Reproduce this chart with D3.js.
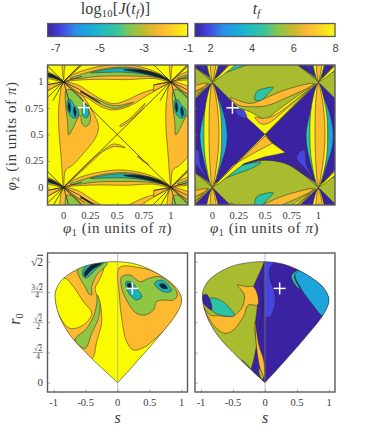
<!DOCTYPE html>
<html><head><meta charset="utf-8">
<script src="https://d3js.org/d3.v7.min.js"></script>
<style>html,body{margin:0;padding:0;background:#fff}svg{display:block}text{font-family:"Liberation Serif",serif;fill:#3a3a3a}</style>
</head><body><svg id="c" width="368" height="436"></svg>
<script>
// ---------- colours ----------
const cbStops=["#35249a","#4646e6","#2a8fe6","#1aa9dc","#22bcc0","#3cc59a","#8dc54a","#c5ba2c","#fdb733","#fbd524","#f9f90e"];
const cDark="#3a22a2",cBlue="#4545e2",cAzure="#1ea6dc",cTeal="#2cc3a6",cOlive="#a9bb2f",cOrange="#fdb92f",cYellow="#f8f510";
const lYellow="#fbfb00",lOrange="#fdb92f",lGreen="#8fc644",lTeal="#1bb3b5",lBlack="#0c2430";
// ---------- ticks ----------
const jTicks=[-7,-5,-3,-1], tfTicks=[2,4,6,8];
const phiTicks=[0,.25,.5,.75,1], phiLabels=["0","0.25","0.5","0.75","1"];
const sTicks=[-1,-.5,0,.5,1], sLabels=["-1","-0.5","0","0.5","1"];
const rTicks=[0,Math.SQRT2/4,Math.SQRT2/2,3*Math.SQRT2/4,Math.SQRT2], rLabels=["0","√2/4","√2/2","3√2/4","√2"];
const crossPhi=[0.19,0.755], crossS=[0.229,1.102];
// ---------- panel (a) log J, periodic regions in (phi1,phi2) ----------
const lobeOrange=[[0,.984],[-.037,.842],[-.047,.621],[-.025,.306],[0,.016],[.019,.164],[.078,.205],[.186,.322],[.295,.464],[.326,.574],[.28,.70],[.155,.89]];
const lobeGreen=[[.025,.921],[.019,.779],[.037,.621],[.047,.495],[.078,.543],[.124,.637],[.155,.685],[.171,.606],[.202,.574],[.242,.606],[.248,.685],[.202,.779],[.155,.858],[.078,.921]];
const lobeTealA=[[.04,.826],[.034,.748],[.062,.678],[.109,.653],[.14,.685],[.13,.748],[.093,.785],[.068,.826]];
const lobeTealB=[[.18,.779],[.217,.779],[.236,.716],[.217,.659],[.186,.669],[.171,.732]];
const lobeBlackA=[[.05,.811],[.065,.763],[.059,.71],[.043,.754]];
const lobeBlackB=[[.099,.763],[.118,.716],[.109,.669],[.093,.716]];
const bandOrange=[[0,0],[.093,.069],[.217,.117],[.357,.148],[.512,.164],[.683,.148],[.839,.101],[.932,.054],[1,0],[.839,.03],[.6,.02],[.3,.022],[.09,.012]];
const bandGreen=[[.06,.03],[.217,.085],[.404,.128],[.59,.138],[.776,.105],[.932,.035],[.776,.05],[.559,.055],[.31,.05],[.15,.03]];
const bandTeal=[[.25,.085],[.497,.127],[.683,.118],[.839,.075],[.916,.04],[.745,.072],[.559,.09],[.38,.088]];
const bandBlack=[[.559,.112],[.714,.112],[.885,.072],[1,0],[.87,.047],[.714,.085]];
const crescentOrange=[[0,1],[.14,.966],[.264,.886],[.388,.814],[.481,.792],[.59,.826],[.745,.899],[.916,.953],[1,1],[.776,.868],[.621,.773],[.466,.732],[.357,.76],[.233,.839],[.109,.909]];
const crescentGreen=[[.22,.87],[.326,.8],[.404,.762],[.497,.748],[.652,.805],[.497,.772],[.404,.79],[.3,.84]];
const crescentBlack=[[0,1],[.171,.91],[.342,.797],[.171,.895]];
const centerStreak=[[.522,.58],[.621,.653],[.761,.795],[.745,.763],[.634,.647],[.534,.574]];
const lowerCrescent=[[.351,.331],[.466,.41],[.575,.375],[.466,.385]];
const lowerStreak=[[.689,.297],[.795,.211],[.714,.268]];
const diagWedge=[[0,0],[.35,.33],[.3,.3]];
const diagA=[[0,0],[1,1]], diagB=[[0,1],[1,0]];
const fanOrange=[[[0,0],[-.16,-.03],[-.16,-.09]],[[0,0],[.16,-.08],[.16,-.12]]];
const fanLines=[[[0,0],[-.1,-.18]],[[0,0],[.05,-.18]],[[0,0],[-.16,-.03]],[[0,0],[.17,.05]]];
// ---------- panel (b) tf, periodic regions ----------
const diamond=[[0,0],[.5,.5],[0,1],[-.5,.5]];
const lowerTri=[[0,0],[.5,.5],[1,0]];
const lensTeal=[[-.006,.94],[-.075,.718],[-.116,.497],[-.085,.275],[-.013,.038],[0,.5]];
const lensYellow=[[0,.987],[-.063,.782],[-.079,.497],[-.063,.244],[0,.006],[.072,.244],[.088,.497],[.072,.75]];
const lensOrange=[[0,.987],[-.022,.845],[-.031,.497],[-.022,.212],[0,.006],[.041,.212],[.063,.497],[.041,.813]];
const lensAzure=[[.031,.892],[.082,.782],[.135,.576],[.135,.402],[.082,.212],[.025,.038],[.072,.307],[.079,.497],[.072,.718]];
const blueA=[[.796,.275],[.827,.339],[.868,.354],[.89,.212],[.953,.085],[.874,.18]];
const blueB=[[.214,.734],[.292,.734],[.324,.655],[.261,.671]];
const yellowUp=[[.214,.766],[.497,.503],[.969,.987],[.686,.782],[.497,.639],[.355,.718]];
const wingOrange=[[.167,.851],[.277,.813],[.371,.797],[.497,.845],[.686,.924],[.953,.987],[.937,.965],[.686,.845],[.513,.775],[.34,.766],[.245,.782]];
const wing2=[[.403,.665],[.481,.655],[.591,.687],[.921,.94],[.686,.734],[.528,.608],[.465,.601],[.418,.639]];
const tealBlob=[[.403,.829],[.418,.908],[.497,.94],[.575,.949],[.513,.877],[.465,.829]];
const yellowLow=[[.497,.503],[.566,.42],[.69,.33],[.6,.31],[.5,.29],[.3,.225],[.06,.035],[0,0]];
const orangeLow=[[.497,.487],[.566,.418],[.387,.323],[.198,.212],[.04,.04]];
const lensFill=[[0,0],[.12,.10],[.277,.196],[.465,.256],[.686,.228],[.843,.133],[1,0],[.5,-.02]];
const lensArc=[[0,0],[.12,.10],[.277,.196],[.465,.256],[.686,.228],[.843,.133],[1,0]];
const tealLow=[[.104,.085],[.214,.18],[.355,.228],[.459,.237],[.371,.18],[.245,.133]];
// ---------- droplet outline in (s,r0) ----------
const outline=[[0,0],[-.406,.284],[-.745,.557],[-.927,.81],[-.979,1.025],[-.943,1.122],[-.849,1.219],[-.536,1.356],[-.224,1.406],[0,1.414],[.297,1.383],[.661,1.258],[.922,1.102],[1,.966],[.922,.81],[.661,.557],[.297,.245],[0,0]];
// ---------- panel (c) ----------
const cOrangeL=[[-.849,1.239],[-.615,1.367],[-.224,1.414],[-.224,1.317],[-.302,1.18],[-.354,1.102],[-.276,.927],[-.25,.713],[-.328,.479],[-.406,.284],[-.797,.518],[-1.005,.908],[-1.005,1.102]];
const cYellowL=[[-1.005,1.025],[-1.005,1.141],[-.823,1.219],[-.693,1.122],[-.536,.947],[-.406,.81],[-.536,.674],[-.745,.635],[-.875,.732],[-.979,.908]];
const cGreenTop=[[-.63,1.328],[-.589,1.219],[-.51,1.122],[-.458,1.044],[-.406,1.025],[-.406,1.122],[-.328,1.258],[-.161,1.395],[-.302,1.434],[-.484,1.414]];
const cTealTop=[[-.536,1.328],[-.536,1.239],[-.484,1.227],[-.328,1.336],[-.214,1.406],[-.38,1.414]];
const cBlackTop=[[-.521,1.278],[-.51,1.239],[-.406,1.317],[-.25,1.395],[-.406,1.375]];
const cGreenStrip=[[-.318,1.025],[-.276,.927],[-.302,.752],[-.406,.577],[-.51,.401],[-.667,.499],[-.484,.635],[-.37,.791],[-.328,.927]];
const cOrangeR=[[.026,1.344],[.349,1.344],[.661,1.266],[.948,1.102],[1.026,.966],[.948,.791],[.661,.565],[.427,.421],[.245,.382],[.141,.479],[.0625,.752],[.026,1.025]];
const cGreenR=[[.0625,1.239],[.193,1.258],[.349,1.18],[.479,1.219],[.661,1.239],[.87,1.122],[.932,1.025],[.87,.966],[.714,.966],[.609,.947],[.557,.849],[.427,.791],[.297,.81],[.167,.927],[.0625,1.102]];
const cTeal1=[[.13,1.18],[.219,1.173],[.297,1.102],[.375,1.005],[.297,.966],[.193,1.025],[.141,1.102]];
const cBlack1=[[.156,1.161],[.219,1.149],[.229,1.102],[.167,1.11]];
const cTeal2=[[.573,1.161],[.688,1.2],[.792,1.141],[.844,1.075],[.766,1.056],[.661,1.083]];
const cBlack2=[[.651,1.149],[.724,1.153],[.776,1.102],[.703,1.102]];
// ---------- panel (d) ----------
const dLeftHalf=[[-1.2,-.1],[0,-.1],[0,1.6],[-1.2,1.6]];
const dRightHalf=[[0,-.1],[1.2,-.1],[1.2,1.6],[0,1.6]];
const dBlue=[[0,1.422],[.156,1.422],[.078,1.336],[.078,1.219],[.146,1.063],[.156,.908],[.078,.771],[0,.771]];
const dAzure=[[.469,1.266],[.625,1.328],[.833,1.219],[1.016,1.005],[.911,.783],[.729,.927],[.547,1.122]];
const dTealR=[[.417,1.258],[.573,1.336],[.688,1.328],[.521,1.297],[.458,1.25],[.479,1.188],[.547,1.095],[.495,1.122],[.427,1.2]];
const dDarkStrip=[[0,1.422],[-.182,1.122],[-.13,1.044],[-.115,.908],[-.146,.732],[-.156,.596],[-.13,.44],[-.182,.245],[-.219,.16],[0,0]];
const dOrange=[[-.432,1.141],[-.286,1.122],[-.182,1.122],[-.115,1.025],[-.115,.908],[-.26,.908],[-.339,.771],[-.495,.616],[-.625,.577],[-.807,.674],[-.974,.908],[-.859,.791],[-.729,.783],[-.495,.783],[-.354,.888],[-.323,1.025],[-.391,1.102]];
const dOrange2=[[-.156,.713],[-.094,.44],[-.016,.245],[-.016,.051],[-.078,.168],[-.13,.401]];
const dGreenSmall=[[-.094,.168],[-.026,.07],[-.042,.031],[-.094,.109]];
const dTealLobe=[[-.859,.986],[-.703,.966],[-.547,.869],[-.479,.783],[-.703,.791],[-.833,.849]];
const dDarkLobe=[[-.974,1.017],[-.911,1.032],[-.859,.966],[-.833,.849],[-.911,.888],[-.974,.947]];
const dTealSmall=[[-.365,.265],[-.234,.168],[-.3125,.238]];
const dInnerLine=[[-.08,1.219],[-.04,1.05],[-.03,.9],[-.06,.75],[-.09,.6]];

// ---------- drawing ----------
const svg=d3.select("#c");
const defs=svg.append("defs");
const frameCol="#5a5a5a", tickCol="#777", txt="#3a3a3a";
const smooth=d3.curveCatmullRomClosed.alpha(.5), sharp=d3.curveLinearClosed;

function panel(id,box,x,y){
  const g=svg.append("g");
  defs.append("clipPath").attr("id",id).append("rect").attr("x",box[0]).attr("y",box[1]).attr("width",box[2]-box[0]).attr("height",box[3]-box[1]);
  const inner=g.append("g").attr("clip-path",`url(#${id})`);
  return {g,inner,box,x,y};
}
function region(p,pts,fill,opt={}){
  const xs=opt.xs||[0],ys=opt.ys||[0];
  const target=opt.target||p.inner;
  const line=d3.line().x(d=>p.x(d[0])).y(d=>p.y(d[1])).curve(opt.sharp?sharp:smooth);
  xs.forEach(dx=>ys.forEach(dy=>{
    target.append("path").attr("d",line(pts.map(q=>[q[0]+dx,q[1]+dy])))
      .attr("fill",fill).attr("stroke",opt.noStroke?"none":"#262626").attr("stroke-width",opt.sw||.5).attr("stroke-linejoin","round");
  }));
}
function rays(p,pts,opt={}){
  const xs=opt.xs||[0],ys=opt.ys||[0];
  const line=d3.line().x(d=>p.x(d[0])).y(d=>p.y(d[1])).curve(opt.curve||d3.curveLinear);
  xs.forEach(dx=>ys.forEach(dy=>{
    (opt.target||p.inner).append("path").attr("d",line(pts.map(q=>[q[0]+dx,q[1]+dy]))).attr("fill","none")
      .attr("stroke",opt.col||"#1c1c1c").attr("stroke-width",opt.sw||.7);
  }));
}
function finish(p,xT,xL,yT,yL){
  const [x0,y0,x1,y1]=p.box;
  const ax=d3.axisBottom(p.x).tickValues(xT).tickSize(-2.5).tickFormat("");
  const gx=p.g.append("g").attr("transform",`translate(0,${y1})`).call(ax);
  gx.select(".domain").remove(); gx.selectAll("line").attr("stroke",tickCol).attr("stroke-width",.6);
  const ay=d3.axisLeft(p.y).tickValues(yT).tickSize(-2.5).tickFormat("");
  const gy=p.g.append("g").attr("transform",`translate(${x0},0)`).call(ay);
  gy.select(".domain").remove(); gy.selectAll("line").attr("stroke",tickCol).attr("stroke-width",.6);
  p.g.append("rect").attr("x",x0).attr("y",y0).attr("width",x1-x0).attr("height",y1-y0).attr("fill","none").attr("stroke",frameCol).attr("stroke-width",1.4);
  if(xL) p.g.selectAll(".xl").data(xT).join("text").attr("class","xl")
    .attr("x",d=>p.x(d)).attr("y",y1+13.5).attr("text-anchor","middle").attr("font-size",10.5).text((d,i)=>xL[i]);
  if(yL) yL(p);
}
function cross(p,c){
  const X=p.x(c[0]),Y=p.y(c[1]);
  const h=d3.line();
  [[[X-6,Y],[X+6,Y]],[[X,Y-6],[X,Y+6]]].forEach(l=>p.g.append("path").attr("d",h(l)).attr("stroke","#fff").attr("stroke-width",1.5));
}
function phiYLabels(p){
  p.g.selectAll(".yl").data(phiTicks).join("text").attr("x",p.box[0]-4).attr("y",d=>p.y(d)+3.4)
   .attr("text-anchor","end").attr("font-size",10.5).text((d,i)=>phiLabels[i]);
}
function rYLabels(p){
  const radical=(t,txtv)=>{const m=txtv.split("√");t.append("tspan").text(m[0]+"√");t.append("tspan").style("text-decoration","overline").text(m[1]);};
  rTicks.forEach((d,i)=>{
    const lab=rLabels[i],Y=p.y(d),xr=p.box[0]-4.5;
    if(lab.includes("/")){
      const [a,b]=lab.split("/"), hw=a.length>2?6:5, xc=xr-hw;
      p.g.append("text").attr("x",xc).attr("y",Y-1.5).attr("text-anchor","middle").attr("font-size",7.5).call(radical,a);
      p.g.append("path").attr("d",d3.line()([[xc-hw,Y],[xc+hw,Y]])).attr("stroke",txt).attr("stroke-width",.5);
      p.g.append("text").attr("x",xc).attr("y",Y+6.5).attr("text-anchor","middle").attr("font-size",7.5).text(b);
    } else if(lab.includes("√")){
      p.g.append("text").attr("x",xr).attr("y",Y+4).attr("text-anchor","end").attr("font-size",11.5).call(radical,lab);
    } else {
      p.g.append("text").attr("x",xr).attr("y",Y+3.6).attr("text-anchor","end").attr("font-size",11).text(lab);
    }
  });
}

// (a)
const xA=d3.scaleLinear().domain([0,1]).range([63.6,170.8]);
const yA=d3.scaleLinear().domain([0,1]).range([187.3,81.7]);
const pA=panel("ca",[47.5,65,188,205],xA,yA);
const PX=[-1,0,1],PY=[-1,0,1];
pA.inner.append("rect").attr("x",47).attr("y",65).attr("width",142).attr("height",141).attr("fill",lYellow);
const perA={xs:PX,ys:PY};
region(pA,lobeOrange,lOrange,perA);
region(pA,lobeGreen,lGreen,perA);
region(pA,lobeTealA,lTeal,perA); region(pA,lobeTealB,lTeal,perA);
region(pA,lobeBlackA,lBlack,perA); region(pA,lobeBlackB,lBlack,perA);
region(pA,bandOrange,lOrange,perA); region(pA,bandGreen,lGreen,perA);
region(pA,bandTeal,lTeal,perA); region(pA,bandBlack,lBlack,perA);
region(pA,crescentOrange,lOrange,perA); region(pA,crescentGreen,lGreen,perA); region(pA,crescentBlack,lBlack,perA);
region(pA,centerStreak,lOrange,perA); region(pA,lowerCrescent,lOrange,perA);
region(pA,lowerStreak,lOrange,perA); region(pA,diagWedge,lOrange,perA);
fanOrange.forEach(f=>region(pA,f,lOrange,{...perA,sharp:true}));
fanLines.forEach(f=>rays(pA,f,{...perA,sw:.7}));
rays(pA,diagA,{xs:PX,ys:PY,sw:.7}); rays(pA,diagB,{xs:PX,ys:PY,sw:.7});
finish(pA,phiTicks,phiLabels,phiTicks,phiYLabels);
cross(pA,crossPhi);

// (b)
const xB=d3.scaleLinear().domain([0,1]).range([212.3,318.3]);
const yB=d3.scaleLinear().domain([0,1]).range([187.3,82]);
const pB=panel("cb",[195,65,335,205],xB,yB);
pB.inner.append("rect").attr("x",194).attr("y",64).attr("width",142).attr("height",142).attr("fill",cOlive);
const perB={xs:PX,ys:PY};
region(pB,diamond,cDark,{...perB,sharp:true});
region(pB,lowerTri,cDark,{...perB,sharp:true});
region(pB,lensFill,cOlive,{...perB,noStroke:true});
rays(pB,lensArc,{...perB,curve:d3.curveCatmullRom.alpha(.5),sw:.6});
region(pB,tealLow,cTeal,perB);
region(pB,yellowLow,cYellow,{...perB,sharp:true});
region(pB,orangeLow,cOrange,{...perB,sharp:true});
region(pB,yellowUp,cYellow,{...perB,sharp:true});
region(pB,wingOrange,cOrange,perB);
region(pB,wing2,cOrange,perB);
region(pB,tealBlob,cTeal,perB);
region(pB,blueA,cBlue,perB); region(pB,blueB,cBlue,perB);
region(pB,lensTeal,cTeal,perB);
region(pB,lensAzure,cAzure,perB);
region(pB,lensYellow,cYellow,perB);
region(pB,lensOrange,cOrange,perB);
finish(pB,phiTicks,phiLabels,phiTicks,null);
cross(pB,crossPhi);

// (c)
const xC=d3.scaleLinear().domain([0,1]).range([117.7,181.7]);
const yC=d3.scaleLinear().domain([0,Math.SQRT2]).range([382.7,261.7]);
const pC=panel("cc",[47.5,253,187.5,392],xC,yC);
const lineOpen=(p)=>d3.line().x(d=>p.x(d[0])).y(d=>p.y(d[1])).curve(d3.curveCatmullRom.alpha(.5));
function droplet(p,id){
  defs.append("clipPath").attr("id",id).append("path").attr("d",lineOpen(p)(outline));
  return p.inner.append("g").attr("clip-path",`url(#${id})`);
}
const dc=droplet(pC,"dropc");
const oc={target:dc};
region(pC,dLeftHalf,lYellow,{...oc,sharp:true,noStroke:true});
region(pC,dRightHalf,lYellow,{...oc,sharp:true,noStroke:true});
region(pC,cOrangeL,lOrange,oc); region(pC,cYellowL,lYellow,oc);
region(pC,cGreenStrip,lGreen,oc); region(pC,cGreenTop,lGreen,oc);
region(pC,cTealTop,lTeal,oc); region(pC,cBlackTop,lBlack,oc);
region(pC,cOrangeR,lOrange,oc); region(pC,cGreenR,lGreen,oc);
region(pC,cTeal1,lTeal,oc); region(pC,cBlack1,lBlack,oc);
region(pC,cTeal2,lTeal,oc); region(pC,cBlack2,lBlack,oc);
pC.inner.append("path").attr("d",lineOpen(pC)(outline)).attr("fill","none").attr("stroke","#333").attr("stroke-width",.6);
pC.inner.append("line").attr("x1",xC(0)).attr("x2",xC(0)).attr("y1",253).attr("y2",392).attr("stroke","#999").attr("stroke-width",.9).attr("opacity",.7);
finish(pC,sTicks,sLabels,rTicks,rYLabels);
cross(pC,crossS);

// (d)
const xD=d3.scaleLinear().domain([0,1]).range([265,329]);
const pD=panel("cd",[195,253,335,392],xD,yC);
const dd=droplet(pD,"dropd");
const od={target:dd};
region(pD,dLeftHalf,cOlive,{...od,sharp:true,noStroke:true});
region(pD,dRightHalf,cDark,{...od,sharp:true,noStroke:true});
region(pD,dBlue,cBlue,od); region(pD,dTealR,cTeal,od); region(pD,dAzure,cAzure,od);
region(pD,dDarkStrip,cDark,{...od,sharp:true}); region(pD,dOrange,cOrange,od); region(pD,dOrange2,cOrange,od);
region(pD,dGreenSmall,cOlive,od); region(pD,dTealLobe,cTeal,od);
region(pD,dDarkLobe,cDark,od); region(pD,dTealSmall,cTeal,od);
rays(pD,dInnerLine,{target:dd,curve:d3.curveCatmullRom.alpha(.5),sw:.5});
pD.inner.append("path").attr("d",lineOpen(pD)(outline)).attr("fill","none").attr("stroke","#333").attr("stroke-width",.6);
pD.inner.append("line").attr("x1",xD(0)).attr("x2",xD(0)).attr("y1",253).attr("y2",392).attr("stroke","#999").attr("stroke-width",.9).attr("opacity",.7);
finish(pD,sTicks,sLabels,rTicks,null);
cross(pD,crossS);

// colour bars
const grad=defs.append("linearGradient").attr("id","cbg");
cbStops.forEach((c,i)=>grad.append("stop").attr("offset",i/(cbStops.length-1)).attr("stop-color",c));
function colorbar(x0,x1,sc,ticks){
  svg.append("rect").attr("x",x0).attr("y",23.5).attr("width",x1-x0).attr("height",13).attr("fill","url(#cbg)").attr("stroke",frameCol).attr("stroke-width",1.3);
  const a=d3.axisBottom(sc).tickValues(ticks).tickSize(-1.5).tickFormat(d=>d);
  const g=svg.append("g").attr("transform","translate(0,36.5)").call(a);
  g.select(".domain").remove();
  g.selectAll("line").attr("stroke","#666").attr("stroke-width",.5);
  g.selectAll("text").attr("y",7.5).attr("dy",".71em").attr("font-size",11).style("font-family","'Liberation Sans',sans-serif").style("fill","#444");
}
colorbar(47.7,187.7,d3.scaleLinear().domain([-7,-1]).range([55.2,187.7]),jTicks);
colorbar(195,335,d3.scaleLinear().domain([2,8]).range([210,335]),tfTicks);

// titles
const t1=svg.append("text").attr("x",115.5).attr("y",13.5).attr("text-anchor","middle").attr("font-size",16).attr("letter-spacing",.25);
t1.append("tspan").text("log");
t1.append("tspan").attr("dy",3).attr("font-size",10.5).text("10");
t1.append("tspan").attr("dy",-3).text("[");
t1.append("tspan").attr("font-style","italic").text("J");
t1.append("tspan").text("(");
t1.append("tspan").attr("font-style","italic").text("t");
t1.append("tspan").attr("dy",3).attr("font-size",10.5).attr("font-style","italic").text("f");
t1.append("tspan").attr("dy",-3).text(")]");
const t2=svg.append("text").attr("x",256.5).attr("y",13.5).attr("text-anchor","middle").attr("font-size",16);
t2.append("tspan").attr("font-style","italic").text("t");
t2.append("tspan").attr("dy",3).attr("font-size",10.5).attr("font-style","italic").text("f");
function phiTitle(x,y,n,rot){
  const t=svg.append("text").attr("transform",`translate(${x},${y})${rot?" rotate(-90)":""}`).attr("text-anchor","middle").attr("font-size",15).attr("letter-spacing",.55);
  t.append("tspan").attr("font-style","italic").text("φ");
  t.append("tspan").attr("dy",2.5).attr("font-size",10).text(n);
  t.append("tspan").attr("dy",-2.5).text(" (in units of ");
  t.append("tspan").attr("font-style","italic").text("π");
  t.append("tspan").text(")");
}
phiTitle(117.5,233,"1",false); phiTitle(264.5,233,"1",false); phiTitle(16,136,"2",true);
svg.append("text").attr("x",117.7).attr("y",423).attr("text-anchor","middle").attr("font-size",16).attr("font-style","italic").text("s");
svg.append("text").attr("x",265).attr("y",423).attr("text-anchor","middle").attr("font-size",16).attr("font-style","italic").text("s");
const r0=svg.append("text").attr("transform","translate(20,319) rotate(-90)").attr("text-anchor","middle").attr("font-size",16);
r0.append("tspan").attr("font-style","italic").text("r");
r0.append("tspan").attr("dy",3).attr("font-size",10.5).text("0");
</script></body></html>
